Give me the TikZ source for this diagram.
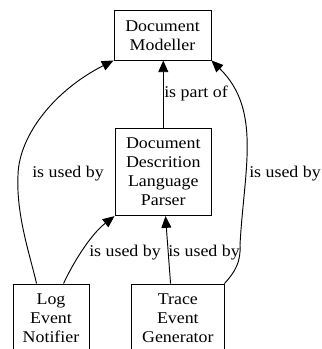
\documentclass[tikz,border=0pt]{standalone}
\usepackage{fontspec}
\setmainfont{Liberation Serif}[FakeStretch=1.09]
\usetikzlibrary{arrows.meta,calc}
\begin{document}
\begin{tikzpicture}[x=0.75pt,y=-0.75pt,
  txt/.style={font=\fontsize{12.3}{14.25}\selectfont},
  lbl/.style={txt, inner sep=0pt, anchor=base west},
  box/.style={txt, draw, line width=0.7pt, inner sep=0pt, align=center},
  edge/.style={line width=0.7pt, -{Triangle[length=8.8pt,width=7.5pt]}}]
\clip (0,0) rectangle (321,349);

% components
\node[box, minimum width=72.75pt, minimum height=37pt] (dm) at (162.5,35.35) {Document\\Modeller};
\node[box, minimum width=72.5pt, minimum height=65.5pt] (ddlp) at (163.3,172) {Document\\Descrition\\Language\\Parser};
\node[box, minimum width=57pt, minimum height=51pt] (log) at (51,318) {Log\\Event\\Notifier};
\node[box, minimum width=69.2pt, minimum height=51pt] (trace) at (177.85,318) {Trace\\Event\\Generator};

% relations
\draw[edge] (ddlp.north) -- (ddlp.north |- dm.south);
\draw[edge] ($(log.north west)+(24,0)$) .. controls (30,255) and (16,215) .. (18,175)
  .. controls (19,135) and (55,90) .. (dm.south west);
\draw[edge] ($(log.north west)+(51,0)$) .. controls (72,265) and (90,235) .. (ddlp.south west);
\draw[edge] ($(trace.north west)+(39.3,0)$) -- ($(ddlp.south)+(2.2,0)$);
\draw[edge] (trace.north east) .. controls (235,272) and (241,262) .. (240,245)
  .. controls (244,170) and (262,110) .. (dm.south east);

% relation labels
\node[lbl] (l1) at (164,98) {is part of};
\node[lbl] (l2) at (32,177.5) {is used by};
\node[lbl] (l3) at (249,177) {is used by};
\node[lbl] (l4) at (89,256) {is used by};
\node[lbl] (l5) at (168,256) {is used by};
\end{tikzpicture}
\end{document}
